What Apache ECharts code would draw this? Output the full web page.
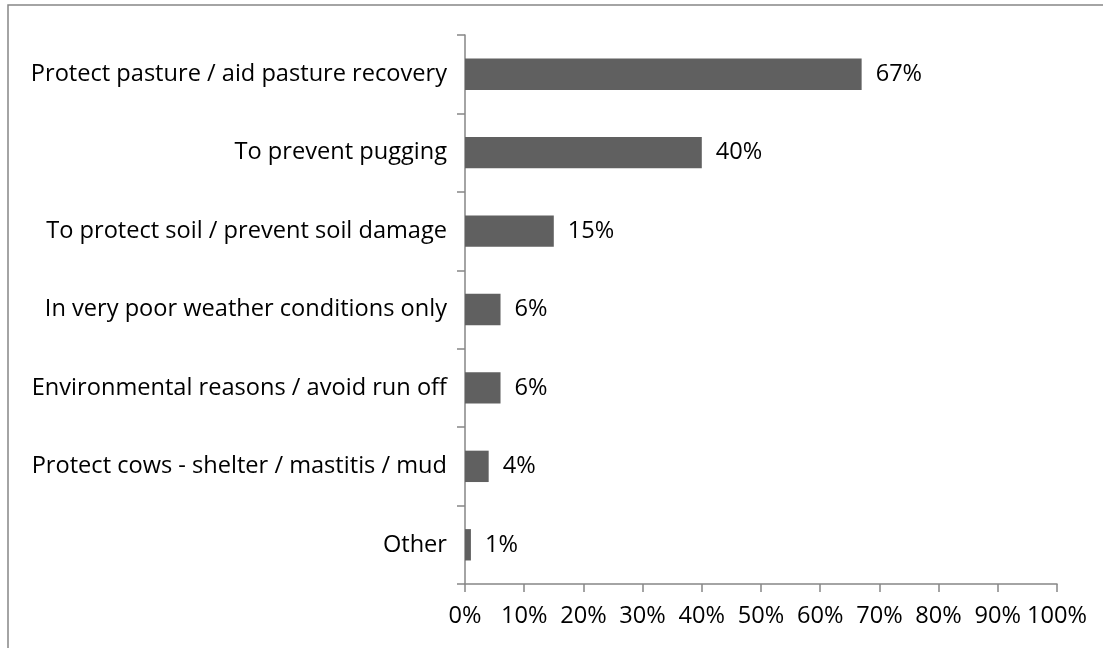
<!DOCTYPE html>
<html>
<head>
<meta charset="utf-8">
<script src="https://cdn.jsdelivr.net/npm/echarts@6/dist/echarts.min.js"></script>
<style>
  html, body { margin: 0; padding: 0; background: #fff; }
  #chart { width: 1103px; height: 648px; }
</style>
</head>
<body>
<div id="chart"></div>
<script>
// Reasons given, listed top to bottom
const categories = [
  'Protect pasture / aid pasture recovery',
  'To prevent pugging',
  'To protect soil / prevent soil damage',
  'In very poor weather conditions only',
  'Environmental reasons / avoid run off',
  'Protect cows - shelter / mastitis / mud',
  'Other'
];
// Share of respondents (%)
const shares = [67, 40, 15, 6, 6, 4, 1];
const xTicks = { min: 0, max: 100, interval: 10 };

const FONT = 'Open Sans';
const FONT_SIZE = 23.6;
const AXIS_GRAY = '#868686';

const chart = echarts.init(document.getElementById('chart'), null, { renderer: 'canvas' });
chart.setOption({
  animation: false,
  backgroundColor: '#ffffff',
  graphic: [{
    type: 'rect',
    shape: { x: 8, y: 5, width: 1300, height: 800 },
    style: { fill: 'none', stroke: AXIS_GRAY, lineWidth: 1.5 },
    silent: true
  }],
  grid: { left: 465, top: 35, right: 46, bottom: 64, containLabel: false },
  xAxis: {
    type: 'value',
    min: xTicks.min,
    max: xTicks.max,
    interval: xTicks.interval,
    axisLine: { show: true, lineStyle: { color: AXIS_GRAY, width: 1.5 } },
    axisTick: { show: true, length: 8, lineStyle: { color: AXIS_GRAY, width: 1.5 } },
    splitLine: { show: false },
    axisLabel: {
      formatter: v => v + '%',
      color: '#000', fontFamily: FONT, fontSize: FONT_SIZE, margin: 20
    }
  },
  yAxis: {
    type: 'category',
    inverse: true,
    data: categories,
    axisLine: { show: true, lineStyle: { color: AXIS_GRAY, width: 1.5 } },
    axisTick: { show: true, length: 8, lineStyle: { color: AXIS_GRAY, width: 1.5 } },
    axisLabel: { color: '#000', fontFamily: FONT, fontSize: FONT_SIZE, margin: 18 }
  },
  series: [{
    type: 'bar',
    data: shares,
    barCategoryGap: '60%',
    itemStyle: { color: '#606060' },
    label: {
      show: true,
      position: 'right',
      distance: 14,
      formatter: p => p.value + '%',
      color: '#000', fontFamily: FONT, fontSize: FONT_SIZE
    }
  }]
});
</script>
</body>
</html>
